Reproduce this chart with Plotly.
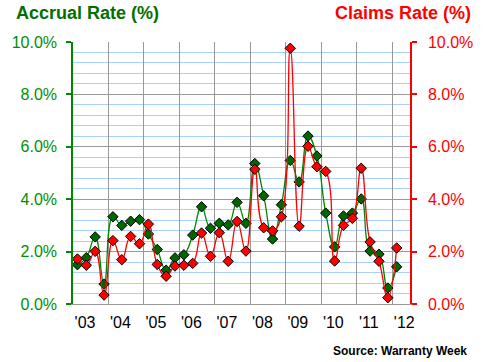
import plotly.graph_objects as go

years = list(range(2003, 2013))
year_labels = ["'03", "'04", "'05", "'06", "'07", "'08", "'09", "'10", "'11", "'12"]

# quarterly values, 2003 Q1 .. 2012 Q1
accrual = [1.50, 1.77, 2.56, 0.76, 3.33, 3.00, 3.16, 3.22, 2.67, 2.08,
           1.29, 1.76, 1.88, 2.63, 3.71, 2.89, 3.08, 3.02, 3.88, 3.08,
           5.36, 4.13, 2.48, 3.79, 5.48, 4.66, 6.41, 5.65, 3.47, 2.18,
           3.36, 3.47, 4.01, 2.02, 1.90, 0.61, 1.42]
claims = [1.72, 1.48, 2.01, 0.34, 2.42, 1.69, 2.58, 2.30, 3.05, 1.51,
          1.06, 1.45, 1.48, 1.55, 2.71, 1.82, 2.72, 1.63, 3.15, 2.02,
          5.14, 2.91, 2.79, 3.33, 9.76, 2.97, 6.02, 5.24, 5.06, 1.64,
          3.00, 3.27, 5.18, 2.37, 1.63, 0.24, 2.14]
quarters = [2003.125 + 0.25 * i for i in range(len(accrual))]

GREEN_LINE = "#008800"
GREEN_MARK = "#006600"
GREEN_TEXT = "#009000"
RED = "#ff0000"

fig = go.Figure()
fig.add_trace(go.Scatter(
    x=quarters, y=claims, yaxis="y2", mode="lines+markers",
    line=dict(color=RED, width=1.3, shape="spline", smoothing=1.3),
    marker=dict(symbol="diamond", size=8, color=RED, line=dict(color="black", width=1)),
    showlegend=False, hoverinfo="skip"))
fig.add_trace(go.Scatter(
    x=quarters, y=accrual, mode="lines+markers",
    line=dict(color=GREEN_LINE, width=1.3, shape="spline", smoothing=1.3),
    marker=dict(symbol="diamond", size=8, color=GREEN_MARK, line=dict(color="black", width=1)),
    showlegend=False, hoverinfo="skip"))

L, R, T, B = 64, 70, 42, 58
W, H = 485, 362
pw, ph = W - L - R, H - T - B

def px(x):
    return (x - L) / pw

def py(y):
    return (H - B - y) / ph

fig.update_layout(
    width=W, height=H,
    margin=dict(l=L, r=R, t=T, b=B, pad=0),
    paper_bgcolor="white", plot_bgcolor="white",
    font=dict(family="Arial, Liberation Sans, sans-serif", size=16, color="black"),
    xaxis=dict(
        range=[2003, 2012.5], tickmode="array", tickvals=years, ticktext=year_labels,
        ticklabelshift=12, ticklabelstandoff=4, showgrid=True, gridcolor="#999999", gridwidth=1,
        showline=True, linecolor="#999999", linewidth=1, ticks="", zeroline=False,
        tickfont=dict(size=16, color="black"), fixedrange=True),
    yaxis=dict(
        range=[0, 10], dtick=2, tick0=0, tickformat=".1f", ticksuffix="%",
        showgrid=True, gridcolor="#999999", gridwidth=1,
        minor=dict(dtick=0.4, tick0=0, showgrid=True, gridcolor="#a8d0ff", gridwidth=1, ticks=""),
        showline=True, linecolor=GREEN_LINE, linewidth=1.5,
        ticks="outside", ticklen=5, tickcolor=GREEN_LINE, tickwidth=1.5,
        ticklabelstandoff=6,
        tickfont=dict(size=16, color=GREEN_TEXT), zeroline=False, fixedrange=True),
    yaxis2=dict(
        range=[0, 10], dtick=2, tick0=0, tickformat=".1f", ticksuffix="%",
        overlaying="y", side="right", showgrid=False,
        showline=True, linecolor=RED, linewidth=1.5,
        ticks="outside", ticklen=5, tickcolor=RED, tickwidth=1.5,
        ticklabelstandoff=8,
        tickfont=dict(size=16, color=RED), zeroline=False, fixedrange=True),
    annotations=[
        dict(text="<b>Accrual Rate (%)</b>", xref="paper", yref="paper",
             x=px(3), y=py(13), xanchor="left", yanchor="middle", showarrow=False,
             font=dict(size=18, color="#007000")),
        dict(text="<b>Claims Rate (%)</b>", xref="paper", yref="paper",
             x=px(481), y=py(13), xanchor="right", yanchor="middle", showarrow=False,
             font=dict(size=18, color=RED)),
        dict(text="<b>Source: Warranty Week</b>", xref="paper", yref="paper",
             x=px(476), y=py(351), xanchor="right", yanchor="middle", showarrow=False,
             font=dict(size=12, color="black")),
    ],
)

fig.write_html("out.html", config={"displayModeBar": False},
               post_script="document.body.style.margin='0';document.body.style.padding='0';")
